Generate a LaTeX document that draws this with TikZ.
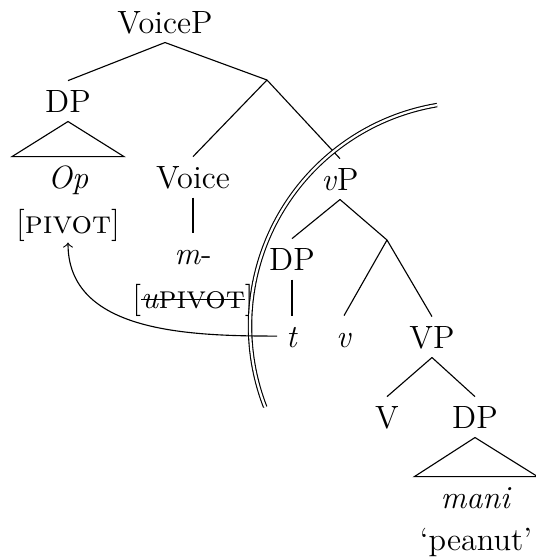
\documentclass[tikz,border=0pt]{standalone}
\newcommand\strk[1]{\setbox0\hbox{#1}\rlap{\rule[.55ex]{\wd0}{.4pt}}\box0}
\begin{document}
\begin{tikzpicture}[x = .357pt, y = -.357pt,
  cat/.style = {anchor = base, inner xsep = 3pt, inner ysep = 3.2pt,
                font = \fontsize{11.5}{14}\selectfont,
                text height = 7.8pt, text depth = 0pt}]
\useasboundingbox (0, 0) rectangle (535, 560);
% labels
\draw (165, 33) node[cat] (voicep) {VoiceP};
\draw (68, 112) node[cat] (dp1) {DP};
\draw (68, 188) node[cat] (op) {\textit{Op}};
\draw (68, 233) node[cat] (pivot) {[\textsc{pivot}]};
\draw (193, 188) node[cat] (voice) {Voice};
\draw (193, 264) node[cat] (m) {\textit{m}-};
\draw (193, 308) node[cat] (upivot) {[\strk{\textit{u}\textsc{pivot}}]};
\draw (340, 190) node[cat] (vp) {\textit{v}P};
\draw (292, 270) node[cat] (dp2) {DP};
\draw (292, 347) node[cat] (t) {\textit{t}};
\draw (344, 347) node[cat] (v) {\textit{v}};
\draw (432, 348) node[cat] (bigvp) {VP};
\draw (387, 428) node[cat] (verb) {V};
\draw (475, 428) node[cat] (dp3) {DP};
\draw (476, 508) node[cat] (mani) {\textit{mani}};
\draw (476, 550) node[cat] (gloss) {`peanut'};
\coordinate (vbar) at (267, 80);
\coordinate (vpbar) at (387, 240);
% branches
\draw (voicep.south) -- (dp1.north);
\draw (voicep.south) -- (vbar);
\draw (vbar) -- (voice.north);
\draw (vbar) -- (vp.north);
\draw (dp1.south) -- ([xshift = -20pt]op.north) -- ([xshift = 20pt]op.north) -- cycle;
\draw (voice.south) -- (m.north);
\draw (vp.south) -- (dp2.north);
\draw (vp.south) -- (vpbar);
\draw (dp2.south) -- (t.north);
\draw (vpbar) -- (v.north);
\draw (vpbar) -- (bigvp.north);
\draw (bigvp.south) -- (verb.north);
\draw (bigvp.south) -- (dp3.north);
\draw (dp3.south) -- ([xshift = -22pt]mani.north) -- ([xshift = 22pt]mani.north) -- cycle;
% phase edge
\coordinate (phase) at (474, 326);
\draw[double, double distance = .8pt] (phase) ++(-99.5:224)
     arc[start angle = -99.5, end angle = -201.2, radius = 224];
% movement
\draw[->] (t.west) to[out = 180, in = -90] (pivot.south);
\end{tikzpicture}
\end{document}
